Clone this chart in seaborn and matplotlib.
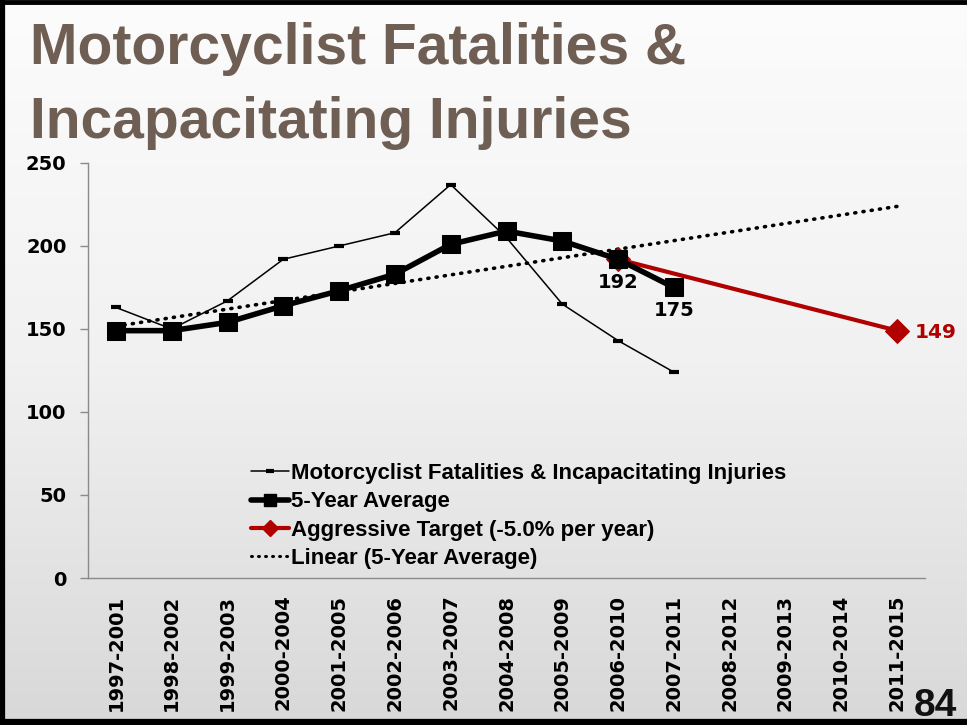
import numpy as np
import pandas as pd
import matplotlib
matplotlib.use("Agg")
import matplotlib.pyplot as plt
import seaborn as sns
from matplotlib.lines import Line2D
from matplotlib.colors import LinearSegmentedColormap

# ---- data ----
periods = ["1997-2001", "1998-2002", "1999-2003", "2000-2004", "2001-2005",
           "2002-2006", "2003-2007", "2004-2008", "2005-2009", "2006-2010",
           "2007-2011", "2008-2012", "2009-2013", "2010-2014", "2011-2015"]
annual_values = [163, 150, 167, 192, 200, 208, 237, 205, 165, 143, 124]
five_year_avg = [149, 149, 154, 164, 173, 183, 201, 209, 203, 192, 175]
target_periods = ["2006-2010", "2011-2015"]
target_values = [192, 149]
yticks = [0, 50, 100, 150, 200, 250]

title_lines = ["Motorcyclist Fatalities &", "Incapacitating Injuries"]
page_number = "84"
labels = ["Motorcyclist Fatalities & Incapacitating Injuries",
          "5-Year Average",
          "Aggressive Target (-5.0% per year)",
          "Linear (5-Year Average)"]

RED = "#b00000"
BROWN = "#6e5e54"

sns.set_theme(style="white")
plt.rcParams["font.family"] = ["DejaVu Sans"]
plt.rcParams["text.color"] = "black"
plt.rcParams["xtick.color"] = "black"
plt.rcParams["ytick.color"] = "black"
plt.rcParams["xtick.labelcolor"] = "black"
plt.rcParams["ytick.labelcolor"] = "black"

fig = plt.figure(figsize=(9.67, 7.25), dpi=100)

# background gradient
bg = fig.add_axes([0, 0, 1, 1], zorder=-10)
grad = np.linspace(0, 1, 256).reshape(-1, 1)
cmap = LinearSegmentedColormap.from_list("bg", ["#fcfcfc", "#f1f1f1", "#d8d8d8"])
bg.imshow(grad, aspect="auto", cmap=cmap, extent=[0, 1, 0, 1])
bg.set_xlim(0, 1)
bg.set_ylim(0, 1)
bg.set_axis_off()
# slide border (left, top, bottom)
bg.plot([0.002, 0.002], [0, 1], color="black", lw=4.5, solid_capstyle="butt")
bg.plot([0, 1], [0.997, 0.997], color="black", lw=3.5, solid_capstyle="butt")
bg.plot([0, 1], [0.0035, 0.0035], color="black", lw=4.5, solid_capstyle="butt")

ax = fig.add_axes([88 / 967, 147 / 725, (925 - 88) / 967, 415 / 725])
ax.patch.set_alpha(0)

pos = {p: i for i, p in enumerate(periods)}
df_annual = pd.DataFrame({"x": [pos[p] for p in periods[:len(annual_values)]], "y": annual_values})
df_avg = pd.DataFrame({"x": [pos[p] for p in periods[:len(five_year_avg)]], "y": five_year_avg})
df_target = pd.DataFrame({"x": [pos[p] for p in target_periods], "y": target_values})

# linear trend of the 5-year average, extended across all periods
coef = np.polyfit(df_avg["x"], df_avg["y"], 1)
xs_all = np.arange(len(periods))
df_trend = pd.DataFrame({"x": xs_all, "y": np.polyval(coef, xs_all)})

sns.lineplot(data=df_trend, x="x", y="y", ax=ax, color="black", lw=2.6,
             linestyle=(0, (0.3, 2.0)), dash_capstyle="round", zorder=2)
sns.lineplot(data=df_annual, x="x", y="y", ax=ax, color="black", lw=1.1,
             marker="_", markersize=7, markeredgewidth=3, markeredgecolor="black",
             zorder=3)
sns.lineplot(data=df_target, x="x", y="y", ax=ax, color=RED, lw=3,
             marker="D", markersize=12, markeredgecolor=RED, zorder=4)
sns.lineplot(data=df_avg, x="x", y="y", ax=ax, color="black", lw=4,
             marker="s", markersize=13.5, markeredgecolor="black", zorder=5)

# data labels
for p, v in zip(periods[9:11], five_year_avg[9:11]):
    ax.annotate(str(v), (pos[p], v), xytext=(0, -10), textcoords="offset points",
                ha="center", va="top", fontsize=14, fontweight="bold", color="black")
ax.annotate(str(target_values[-1]), (pos[target_periods[-1]], target_values[-1]),
            xytext=(13, -1), textcoords="offset points", ha="left", va="center",
            fontsize=14.5, fontweight="bold", color=RED)

ax.set_xlim(-0.5, len(periods) - 0.5)
ax.set_ylim(0, 250)
ax.set_yticks(yticks)
ax.set_yticklabels([str(t) for t in yticks], fontsize=14, fontweight="bold", color="black")
ax.set_xticks(xs_all)
ax.set_xticklabels(periods, rotation=90, fontsize=14, fontweight="bold", color="black")
ax.set_xticks(np.arange(-0.5, len(periods), 1), minor=True)
ax.tick_params(axis="x", which="major", length=0, pad=12)
ax.tick_params(axis="x", which="minor", length=5.5, color="#8a8a8a", width=1)
ax.tick_params(axis="y", length=5.5, color="#8a8a8a", width=1, left=True, pad=10)
ax.set_xlabel("")
ax.set_ylabel("")
for s in ["top", "right"]:
    ax.spines[s].set_visible(False)
for s in ["left", "bottom"]:
    ax.spines[s].set_color("#8a8a8a")
    ax.spines[s].set_linewidth(1)

# legend
handles = [
    Line2D([], [], color="black", lw=1.1, marker="_", markersize=6, markeredgewidth=3),
    Line2D([], [], color="black", lw=4, marker="s", markersize=9),
    Line2D([], [], color=RED, lw=3, marker="D", markersize=8),
    Line2D([], [], color="black", lw=2.2, linestyle=(0, (0.3, 2.0)), dash_capstyle="round"),
]
leg = fig.legend(handles, labels, loc="upper left", bbox_to_anchor=(251 / 967, 1 - 463 / 725),
                 frameon=False, handlelength=1.7, handletextpad=0.1, labelspacing=0.33,
                 borderpad=0, borderaxespad=0, labelcolor="black",
                 prop={"family": "Liberation Sans", "weight": "bold", "size": 16})

# title (two lines)
fig.text(30 / 967, 1 - 64 / 725, title_lines[0], ha="left", va="baseline", color=BROWN,
         fontsize=41, fontweight="bold", family=["Liberation Sans", "DejaVu Sans"])
fig.text(30 / 967, 1 - 138 / 725, title_lines[1], ha="left", va="baseline", color=BROWN,
         fontsize=41, fontweight="bold", family=["Liberation Sans", "DejaVu Sans"])

# page number
fig.text(957 / 967, 1 - 716 / 725, page_number, ha="right", va="baseline",
         fontsize=28, fontweight="bold", family=["Liberation Sans", "DejaVu Sans"],
         color="#111111")

fig.savefig("out.png", dpi=100)
